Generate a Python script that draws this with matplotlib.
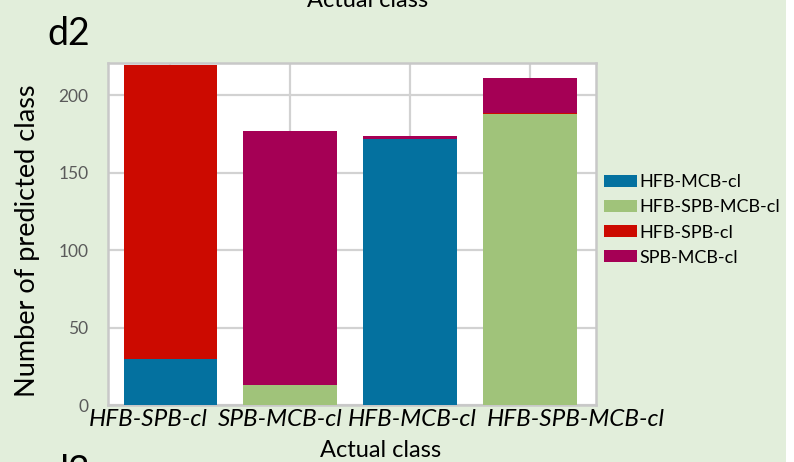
import numpy as np
import matplotlib
matplotlib.use('Agg')
import matplotlib.pyplot as plt
from matplotlib.transforms import ScaledTranslation

plt.rcParams['font.family'] = ['Lato', 'DejaVu Sans']

classes = ['HFB-SPB-cl', 'SPB-MCB-cl', 'HFB-MCB-cl', 'HFB-SPB-MCB-cl']
series = ['HFB-MCB-cl', 'HFB-SPB-MCB-cl', 'HFB-SPB-cl', 'SPB-MCB-cl']
hfb_mcb = [30, 0, 172, 0]
hfb_spb_mcb = [0, 13, 0, 188]
hfb_spb = [190, 0, 0, 1]
spb_mcb = [0, 164, 2, 22]
yticks = [0, 50, 100, 150, 200]

colors = ['#04719f', '#a0c37a', '#cc0a00', '#a50055']
bg = '#e2eedb'

fig = plt.figure(figsize=(7.94, 4.62), dpi=100)
fig.patch.set_facecolor(bg)
# white strip down the right edge
fig.patches.append(plt.Rectangle((786 / 794, 0), 8 / 794, 1, transform=fig.transFigure,
                                 facecolor='white', edgecolor='none', zorder=0))

ax = fig.add_axes([108 / 794, 57 / 462, 488 / 794, 342 / 462])
ax.set_facecolor('white')

x = np.arange(len(classes))
bottom = np.zeros(len(classes))
for name, vals, c in zip(series, [hfb_mcb, hfb_spb_mcb, hfb_spb, spb_mcb], colors):
    ax.bar(x, vals, width=0.78, bottom=bottom, color=c, label=name, zorder=3)
    bottom += np.array(vals)

ax.set_xlim(-0.52, 3.55)
ax.set_ylim(0, 221)
ax.set_yticks(yticks)
ax.set_yticklabels([str(v) for v in yticks], fontsize=12.5, color='#5a5a5a')
ax.set_xticks(x)
ax.set_xticklabels(classes, fontsize=17.5, style='italic', color='black')
ax.tick_params(axis='x', length=0, pad=3)
ax.tick_params(axis='y', length=0, pad=14)
ax.grid(True, color='#d2d2d2', linewidth=1.6, zorder=0)
for s in ax.spines.values():
    s.set_color('#c8c8c8')
    s.set_linewidth(1.8)

# labels sit a little off the bar centres
shifts = [-22, -10, 2, 46]
for lab, dx in zip(ax.get_xticklabels(), shifts):
    lab.set_transform(lab.get_transform() + ScaledTranslation(dx / 100, 0, fig.dpi_scale_trans))

fig.text(28 / 794, 1 - 241 / 462, 'Number of predicted class', rotation=90,
         ha='center', va='center', fontsize=19.5)
fig.text(381 / 794, 1 - 457 / 462, 'Actual class', ha='center', va='baseline', fontsize=17)
fig.text(368 / 794, 1 - 7 / 462, 'Actual class', ha='center', va='baseline', fontsize=17)
fig.text(47 / 794, 1 - 45 / 462, 'd2', ha='left', va='baseline', fontsize=27)
fig.text(47 / 794, 1 - 483 / 462, 'd3', ha='left', va='baseline', fontsize=27)

leg = ax.legend(loc='center left', bbox_to_anchor=(604 / 794, 1 - 220 / 462),
                bbox_transform=fig.transFigure, frameon=False, fontsize=13,
                handlelength=1.85, handleheight=0.6, handletextpad=0.12,
                labelspacing=0.5, borderaxespad=0, borderpad=0)

fig.savefig('out.png', dpi=100, facecolor=fig.get_facecolor())
